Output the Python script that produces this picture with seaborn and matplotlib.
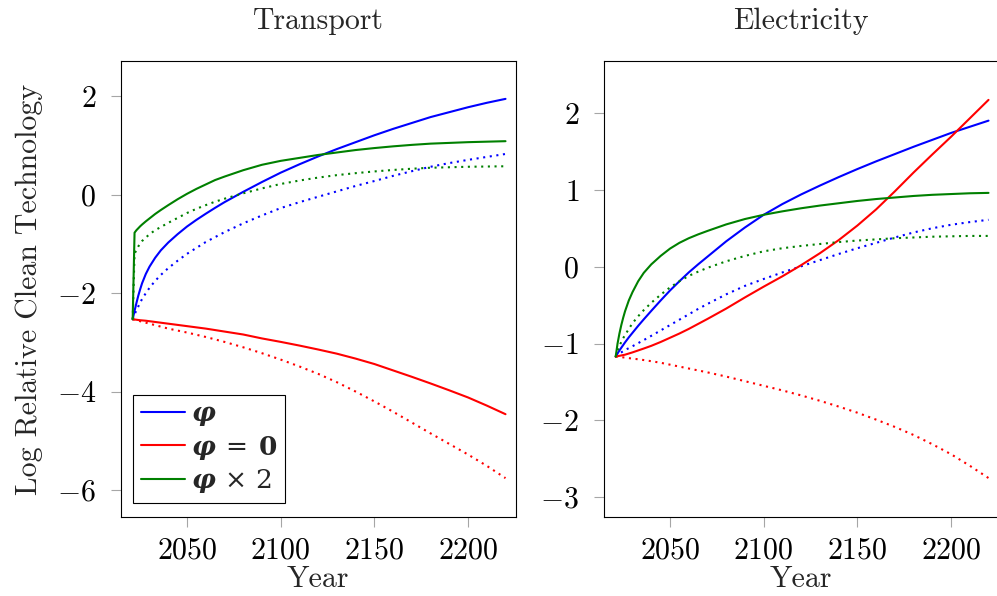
import matplotlib
matplotlib.use("Agg")
import matplotlib.pyplot as plt
from matplotlib.lines import Line2D
from matplotlib.font_manager import FontProperties
import seaborn as sns

# ---- data -------------------------------------------------------------
years = [2021, 2022, 2023, 2024, 2025, 2026, 2028, 2030, 2033, 2036, 2040,
         2045, 2050, 2055, 2060, 2065, 2070, 2080, 2090, 2100, 2110, 2120,
         2130, 2140, 2150, 2160, 2170, 2180, 2190, 2200, 2210, 2220]

# Transport: log relative clean technology
transport_phi = [-2.53, -2.36, -2.20, -2.05, -1.92, -1.80, -1.61, -1.46, -1.28, -1.13, -0.97,
                 -0.80, -0.645, -0.51, -0.385, -0.265, -0.15, 0.06, 0.26, 0.45, 0.62, 0.78,
                 0.93, 1.07, 1.21, 1.34, 1.46, 1.58, 1.68, 1.78, 1.87, 1.95]
transport_phi_dot = [-2.53, -2.43, -2.35, -2.27, -2.19, -2.12, -2.00, -1.89, -1.75, -1.63, -1.49,
                     -1.34, -1.20, -1.08, -0.96, -0.86, -0.76, -0.58, -0.42, -0.27, -0.15, -0.04,
                     0.07, 0.18, 0.28, 0.385, 0.48, 0.57, 0.645, 0.71, 0.77, 0.83]
transport_zero = [-2.53, -2.535, -2.54, -2.545, -2.55, -2.553, -2.56, -2.57, -2.585, -2.60, -2.62,
                  -2.645, -2.67, -2.695, -2.72, -2.75, -2.78, -2.84, -2.92, -2.99, -3.065, -3.145,
                  -3.23, -3.33, -3.44, -3.57, -3.70, -3.835, -3.975, -4.12, -4.285, -4.46]
transport_zero_dot = [-2.53, -2.54, -2.55, -2.56, -2.57, -2.58, -2.60, -2.62, -2.65, -2.68, -2.72,
                      -2.76, -2.80, -2.845, -2.89, -2.94, -2.99, -3.10, -3.22, -3.35, -3.49, -3.64,
                      -3.81, -4.00, -4.20, -4.41, -4.63, -4.85, -5.065, -5.28, -5.51, -5.76]
transport_double = [-2.53, -0.77, -0.72, -0.68, -0.64, -0.605, -0.54, -0.48, -0.39, -0.31, -0.21,
                    -0.09, 0.02, 0.12, 0.21, 0.30, 0.37, 0.50, 0.61, 0.69, 0.75, 0.81,
                    0.86, 0.91, 0.95, 0.985, 1.015, 1.04, 1.055, 1.07, 1.08, 1.09]
transport_double_dot = [-2.53, -1.20, -1.12, -1.05, -0.99, -0.94, -0.87, -0.80, -0.72, -0.655, -0.57,
                        -0.47, -0.37, -0.285, -0.21, -0.14, -0.08, 0.03, 0.13, 0.22, 0.29, 0.35,
                        0.40, 0.44, 0.475, 0.505, 0.53, 0.55, 0.56, 0.57, 0.575, 0.58]

# Electricity: log relative clean technology
electricity_phi = [-1.17, -1.13, -1.09, -1.055, -1.02, -0.985, -0.92, -0.86, -0.77, -0.685, -0.575,
                   -0.44, -0.31, -0.19, -0.075, 0.03, 0.13, 0.33, 0.51, 0.675, 0.815, 0.94,
                   1.055, 1.165, 1.27, 1.37, 1.465, 1.56, 1.65, 1.74, 1.82, 1.90]
electricity_phi_dot = [-1.17, -1.15, -1.13, -1.115, -1.10, -1.085, -1.06, -1.035, -0.995, -0.955, -0.90,
                       -0.83, -0.76, -0.69, -0.62, -0.55, -0.485, -0.36, -0.25, -0.16, -0.075, 0.005,
                       0.085, 0.165, 0.24, 0.31, 0.38, 0.445, 0.50, 0.545, 0.58, 0.61]
electricity_zero = [-1.17, -1.165, -1.16, -1.155, -1.15, -1.145, -1.13, -1.115, -1.09, -1.065, -1.03,
                    -0.98, -0.925, -0.87, -0.81, -0.745, -0.68, -0.545, -0.40, -0.26, -0.125, 0.02,
                    0.175, 0.345, 0.535, 0.745, 0.98, 1.225, 1.46, 1.69, 1.93, 2.17]
electricity_zero_dot = [-1.17, -1.172, -1.175, -1.178, -1.18, -1.183, -1.19, -1.196, -1.205, -1.215, -1.23,
                        -1.25, -1.275, -1.30, -1.325, -1.35, -1.375, -1.43, -1.49, -1.55, -1.61, -1.675,
                        -1.745, -1.82, -1.90, -1.99, -2.085, -2.19, -2.31, -2.44, -2.59, -2.75]
electricity_double = [-1.17, -1.00, -0.87, -0.76, -0.665, -0.58, -0.44, -0.33, -0.19, -0.08, 0.03,
                      0.14, 0.235, 0.31, 0.37, 0.42, 0.465, 0.55, 0.62, 0.675, 0.72, 0.76,
                      0.795, 0.825, 0.855, 0.88, 0.90, 0.92, 0.935, 0.945, 0.955, 0.96]
electricity_double_dot = [-1.17, -1.09, -1.03, -0.98, -0.93, -0.89, -0.81, -0.735, -0.645, -0.565, -0.47,
                          -0.365, -0.27, -0.19, -0.12, -0.065, -0.015, 0.07, 0.14, 0.20, 0.24, 0.27,
                          0.295, 0.32, 0.34, 0.355, 0.37, 0.38, 0.39, 0.395, 0.40, 0.40]

panel_titles = ["Transport", "Electricity"]
legend_labels = [r"$\mathbfit{\varphi}$",
                 r"$\mathbfit{\varphi}\:=\:\mathbf{0}$",
                 r"$\mathbfit{\varphi}\,\times\,2$"]
x_ticks = [2050, 2100, 2150, 2200]
transport_yticks = [-6, -4, -2, 0, 2]
electricity_yticks = [-3, -2, -1, 0, 1, 2]

# ---- style ------------------------------------------------------------
sns.set_theme(style="ticks")
plt.rcParams.update({
    "font.family": "serif",
    "font.serif": ["cmr10"],
    "mathtext.fontset": "cm",
    "axes.formatter.use_mathtext": True,
    "font.size": 21.5,
    "axes.linewidth": 0.8,
    "axes.edgecolor": "black",
})

BLUE, RED, GREEN = "#0000ff", "#ff0000", "#008000"
DOT = (0, (1, 2.2))
LW = 1.5

fig = plt.figure(figsize=(9.97, 5.96), dpi=100)
W, H = 997, 596
ax_t = fig.add_axes([120.5 / W, (H - 517) / H, 395.5 / W, 456 / H])
ax_e = fig.add_axes([603.5 / W, (H - 517) / H, 395.5 / W, 456 / H])

panels = [
    (ax_t, [(transport_phi, BLUE, "-"), (transport_phi_dot, BLUE, DOT),
            (transport_zero, RED, "-"), (transport_zero_dot, RED, DOT),
            (transport_double, GREEN, "-"), (transport_double_dot, GREEN, DOT)],
     transport_yticks, (-6.55, 2.72)),
    (ax_e, [(electricity_phi, BLUE, "-"), (electricity_phi_dot, BLUE, DOT),
            (electricity_zero, RED, "-"), (electricity_zero_dot, RED, DOT),
            (electricity_double, GREEN, "-"), (electricity_double_dot, GREEN, DOT)],
     electricity_yticks, (-3.257, 2.676)),
]

for (ax, series, yticks, ylim), title in zip(panels, panel_titles):
    for vals, color, ls in series:
        sns.lineplot(x=years, y=vals, ax=ax, color=color, linewidth=LW,
                     linestyle=ls, dash_capstyle="butt", legend=False)
    ax.set_xlim(2014.5, 2225.6)
    ax.set_ylim(*ylim)
    ax.set_xticks(x_ticks)
    ax.set_yticks(yticks)
    ax.tick_params(direction="out", length=7.5, width=0.8, color="#a6a6a6",
                   labelcolor="black", pad=7, labelsize=21.5)
    ax.tick_params(axis="y", pad=10)
    ax.set_title(title, pad=23, fontsize=21.5)
    ax.set_xlabel("Year", labelpad=1, fontsize=21.5)
    for sp in ax.spines.values():
        sp.set_visible(True)
        sp.set_color("black")
        sp.set_linewidth(0.8)

ax_t.set_ylabel("Log Relative Clean Technology", labelpad=10, fontsize=21.5)
ax_e.set_ylabel("")

handles = [Line2D([], [], color=c, lw=LW) for c in (BLUE, RED, GREEN)]
legend_font = FontProperties(family="serif", size=19, math_fontfamily="dejavuserif")
leg = ax_t.legend(handles, legend_labels, loc="lower left",
                  bbox_to_anchor=(12.8 / 395.5, 14.3 / 456), borderaxespad=0,
                  prop=legend_font, handlelength=1.65, handletextpad=0.25,
                  labelspacing=0.2, borderpad=0.3, fancybox=False,
                  framealpha=1, edgecolor="black")
leg.get_frame().set_linewidth(0.8)

fig.savefig("out.png", dpi=100)
